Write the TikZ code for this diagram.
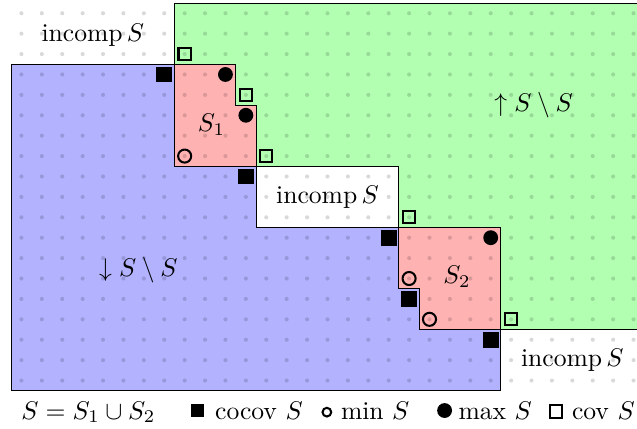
\documentclass[tikz,border=0pt]{standalone}
\usepackage{amsmath}
\usepackage{amssymb}

\begin{document}
\begin{tikzpicture}[x=0.28cm,y=0.28cm,
        griddot/.style={fill=black,opacity=0.15},
        region/.style={draw=black,line width=0.4pt},
        cocovmark/.style={rectangle,fill=black,minimum size=6.2pt,inner sep=0pt},
        covmark/.style={rectangle,draw=black,thick,minimum size=4.8pt,inner sep=0pt},
        maxmark/.style={circle,fill=black,minimum size=5.8pt,inner sep=0pt},
        minmark/.style={circle,draw=black,thick,minimum size=5.1pt,inner sep=0pt}]
        \useasboundingbox (-1.05,-2.33) rectangle (30.17,18.65);
        \fill[blue!30](-0.5,15.5)--(7.5,15.5)--(7.5,10.5)--(11.5,10.5)--(11.5,7.5)--(18.5,7.5)--(18.5,4.5)--(19.5,4.5)--(19.5,2.5)--(23.5,2.5)--(23.5,-0.5)--(-0.5,-0.5)--cycle;
        \fill[green!30](7.5,18.5)--(31,18.5)--(31,2.5)--(23.5,2.5)--(23.5,7.5)--(18.5,7.5)--(18.5,10.5)--(11.5,10.5)--(11.5,13.5)--(10.5,13.5)--(10.5,15.5)--(7.5,15.5)--cycle;
        \fill[red!30](7.5,15.5)--(10.5,15.5)--(10.5,13.5)--(11.5,13.5)--(11.5,10.5)--(7.5,10.5)--cycle;
        \fill[red!30](18.5,7.5)--(23.5,7.5)--(23.5,2.5)--(19.5,2.5)--(19.5,4.5)--(18.5,4.5)--cycle;
        \foreach \i in {0,...,30}
            \foreach \k in {0,...,18}
                \fill[griddot](\i,\k)circle(0.8pt);
        \draw[region](-0.5,15.5)--(7.5,15.5)--(7.5,10.5)--(11.5,10.5)--(11.5,7.5)--(18.5,7.5)--(18.5,4.5)--(19.5,4.5)--(19.5,2.5)--(23.5,2.5)--(23.5,-0.5)--(-0.5,-0.5)--cycle;
        \draw[region](7.5,18.5)--(31,18.5)--(31,2.5)--(23.5,2.5)--(23.5,7.5)--(18.5,7.5)--(18.5,10.5)--(11.5,10.5)--(11.5,13.5)--(10.5,13.5)--(10.5,15.5)--(7.5,15.5)--cycle;
        \draw[region](7.5,15.5)--(10.5,15.5)--(10.5,13.5)--(11.5,13.5)--(11.5,10.5)--(7.5,10.5)--cycle;
        \draw[region](18.5,7.5)--(23.5,7.5)--(23.5,2.5)--(19.5,2.5)--(19.5,4.5)--(18.5,4.5)--cycle;
        \node[anchor=base](incompTop)at(3.5,16.64){incomp\,$S$};
        \node[anchor=base](incompMid)at(15,8.69){incomp\,$S$};
        \node[anchor=base](incompBot)at(27,0.68){incomp\,$S$};
        \node[anchor=base](upset)at(25.1,13.2){$\uparrow S\setminus S$};
        \node[anchor=base](downset)at(5.73,5.09){$\downarrow S\setminus S$};
        \node[anchor=base](sone)at(9.32,12.2){$S_1$};
        \node[anchor=base](stwo)at(21.35,4.76){$S_2$};
        \foreach \p [count=\n] in {(7,15),(11,10),(18,7),(19,4),(23,2)}
            \node[cocovmark](cocov\n)at\p{};
        \foreach \p [count=\n] in {(8,16),(11,14),(12,11),(19,8),(24,3)}
            \node[covmark](cov\n)at\p{};
        \foreach \p [count=\n] in {(10,15),(11,13),(23,7)}
            \node[maxmark](max\n)at\p{};
        \foreach \p [count=\n] in {(8,11),(19,5),(20,3)}
            \node[minmark](min\n)at\p{};
        \node[anchor=base](union)at(3.28,-1.89){$S=S_1\cup S_2$};
        \node[cocovmark,minimum size=5.2pt](keycocov)at(8.62,-1.48){};
        \node[anchor=base](txtcocov)at(11.64,-1.89){cocov $S$};
        \node[minmark,minimum size=3.4pt](keymin)at(14.97,-1.55){};
        \node[anchor=base](txtmin)at(17.34,-1.89){min $S$};
        \node[maxmark](keymax)at(20.74,-1.47){};
        \node[anchor=base](txtmax)at(23.22,-1.89){max $S$};
        \node[covmark](keycov)at(26.19,-1.52){};
        \node[anchor=base](txtcov)at(28.52,-1.89){cov $S$};
    \end{tikzpicture}
\end{document}
